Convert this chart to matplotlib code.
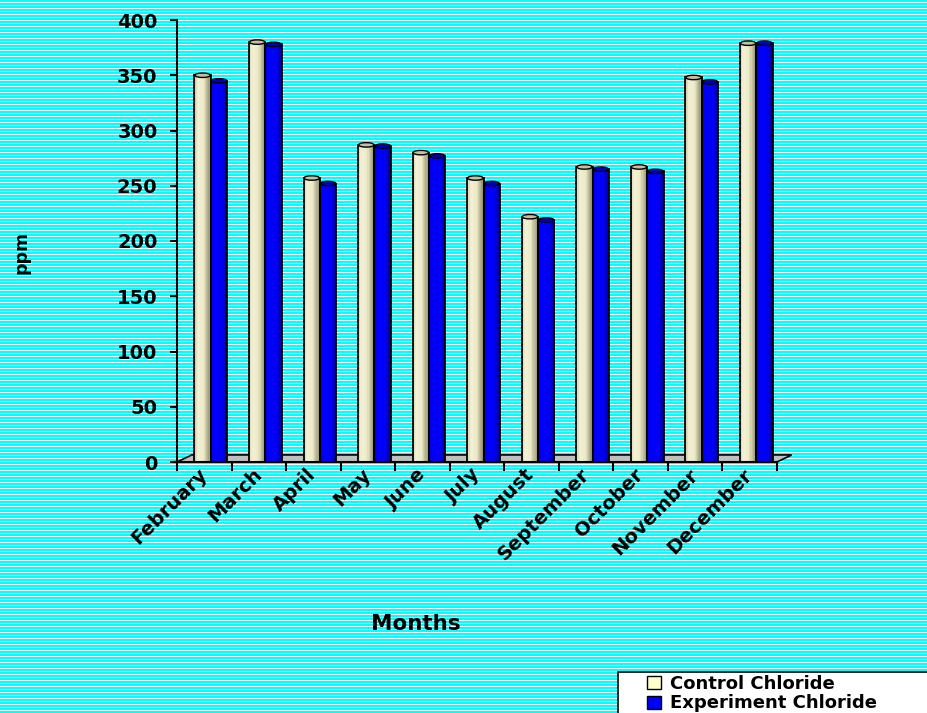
import numpy as np
import matplotlib
matplotlib.use("Agg")
import matplotlib.pyplot as plt
import matplotlib.colors as mcolors
from matplotlib.patches import Ellipse, Polygon, Patch, Rectangle

# Monthly chloride readings (ppm)
months = ["February", "March", "April", "May", "June", "July", "August",
          "September", "October", "November", "December"]
control = [350, 380, 257, 287, 280, 257, 222, 267, 267, 348, 379]
experiment = [345, 378, 252, 286, 277, 252, 219, 265, 263, 344, 379]
series_names = ["Control Chloride", "Experiment Chloride"]
yticks = [0, 50, 100, 150, 200, 250, 300, 350, 400]

plt.rcParams['font.family'] = ['DejaVu Sans']
plt.rcParams['font.weight'] = 'bold'

W, H = 928, 713
fig = plt.figure(figsize=(W / 100, H / 100), dpi=100)

# striped cyan backdrop
stripe = np.array([[0, 255, 255], [0, 255, 255], [255, 255, 255]], dtype=float) / 255
rows = stripe[np.arange(H) % 3]
bg = np.repeat(rows[:, None, :], W, axis=1)
fig.figimage(bg, xo=0, yo=0, origin='upper', zorder=-1)

ax = fig.add_axes([177 / W, 1 - 462 / H, 600 / W, 442 / H])
ax.patch.set_visible(False)
ax.set_xlim(-0.5, len(months) - 0.5)
ax.set_ylim(0, 400)

x = np.arange(len(months))
bw = 0.30
shift = 0.12
xc = x + shift - bw / 2
xe = x + shift + bw / 2

# grey floor of the 3D plot
depth_x, depth_y = 0.27, 6.4
floor = Polygon([(-0.5, 0), (-0.5 + depth_x, depth_y),
                 (len(months) - 0.5 + depth_x, depth_y), (len(months) - 0.5, 0)],
                closed=True, facecolor='#c0c0c0', edgecolor='black', lw=1.2,
                zorder=1, clip_on=False)
ax.add_patch(floor)


def cylinder(pos, vals, stops, cap_color):
    cmap = mcolors.LinearSegmentedColormap.from_list('shade', stops)
    n = 14
    left = pos - bw / 2
    for k in range(n):
        ax.bar(left + k * bw / n, vals, width=bw / n + 0.002, align='edge',
               color=cmap((k + 0.5) / n), lw=0, zorder=2)
    ax.bar(pos, vals, width=bw, fill=False, edgecolor='black', lw=1.3, zorder=3)
    for p, v in zip(pos, vals):
        ax.add_patch(Ellipse((p, v), bw * 0.95, 4.0, facecolor=cap_color,
                             edgecolor='black', lw=1.0, zorder=4))


cylinder(xc, control,
         [(0, '#cfcaa6'), (0.2, '#f3f1d4'), (0.55, '#eceac8'), (1, '#8e8a68')],
         '#c4c0a0')
cylinder(xe, experiment,
         [(0, '#0000d8'), (0.25, '#0000ff'), (0.7, '#0000f2'), (1, '#000090')],
         '#0000b8')

for side in ['top', 'right']:
    ax.spines[side].set_visible(False)
ax.spines['left'].set_linewidth(1.5)
ax.spines['bottom'].set_linewidth(1.5)

ax.set_yticks(yticks)
ax.set_yticklabels([str(v) for v in yticks], fontsize=14, fontweight='bold')
ax.tick_params(axis='y', length=5, width=1.5, pad=9)

ax.set_xticks(np.arange(-0.5, len(months), 1))
ax.set_xticklabels([])
ax.tick_params(axis='x', which='major', length=6.5, width=1.5, direction='out')
ax.set_xticks(x, labels=months, minor=True)
ax.tick_params(axis='x', which='minor', length=0, pad=7)
for lbl in ax.get_xticklabels(minor=True):
    lbl.set_rotation(45)
    lbl.set_ha('right')
    lbl.set_va('center')
    lbl.set_rotation_mode('anchor')
    lbl.set_fontsize(14)
    lbl.set_fontweight('bold')

fig.text(22 / W, 1 - 252 / H, "ppm", rotation=90, ha='center', va='center',
         fontsize=12.5, fontweight='bold')
fig.text(416 / W, 1 - 624 / H, "Months", ha='center', va='center',
         fontsize=15.5, fontweight='bold')

# legend box runs off the bottom-right corner
fig.patches.append(Rectangle((618 / W, -0.01), 0.4, (713 - 672) / H + 0.01,
                             transform=fig.transFigure, facecolor='white',
                             edgecolor='black', lw=1.2, zorder=1))
handles = [Patch(facecolor='#ffffcc', edgecolor='black'),
           Patch(facecolor='#0000ff', edgecolor='black')]
leg = fig.legend(handles, series_names, loc='upper left',
                 bbox_to_anchor=(647 / W, 1 - 675 / H), borderaxespad=0,
                 frameon=False, borderpad=0, handlelength=0.75,
                 handleheight=0.75, handletextpad=0.55, labelspacing=0.08,
                 prop={'weight': 'bold', 'size': 13})

fig.savefig("out.png", dpi=100)
